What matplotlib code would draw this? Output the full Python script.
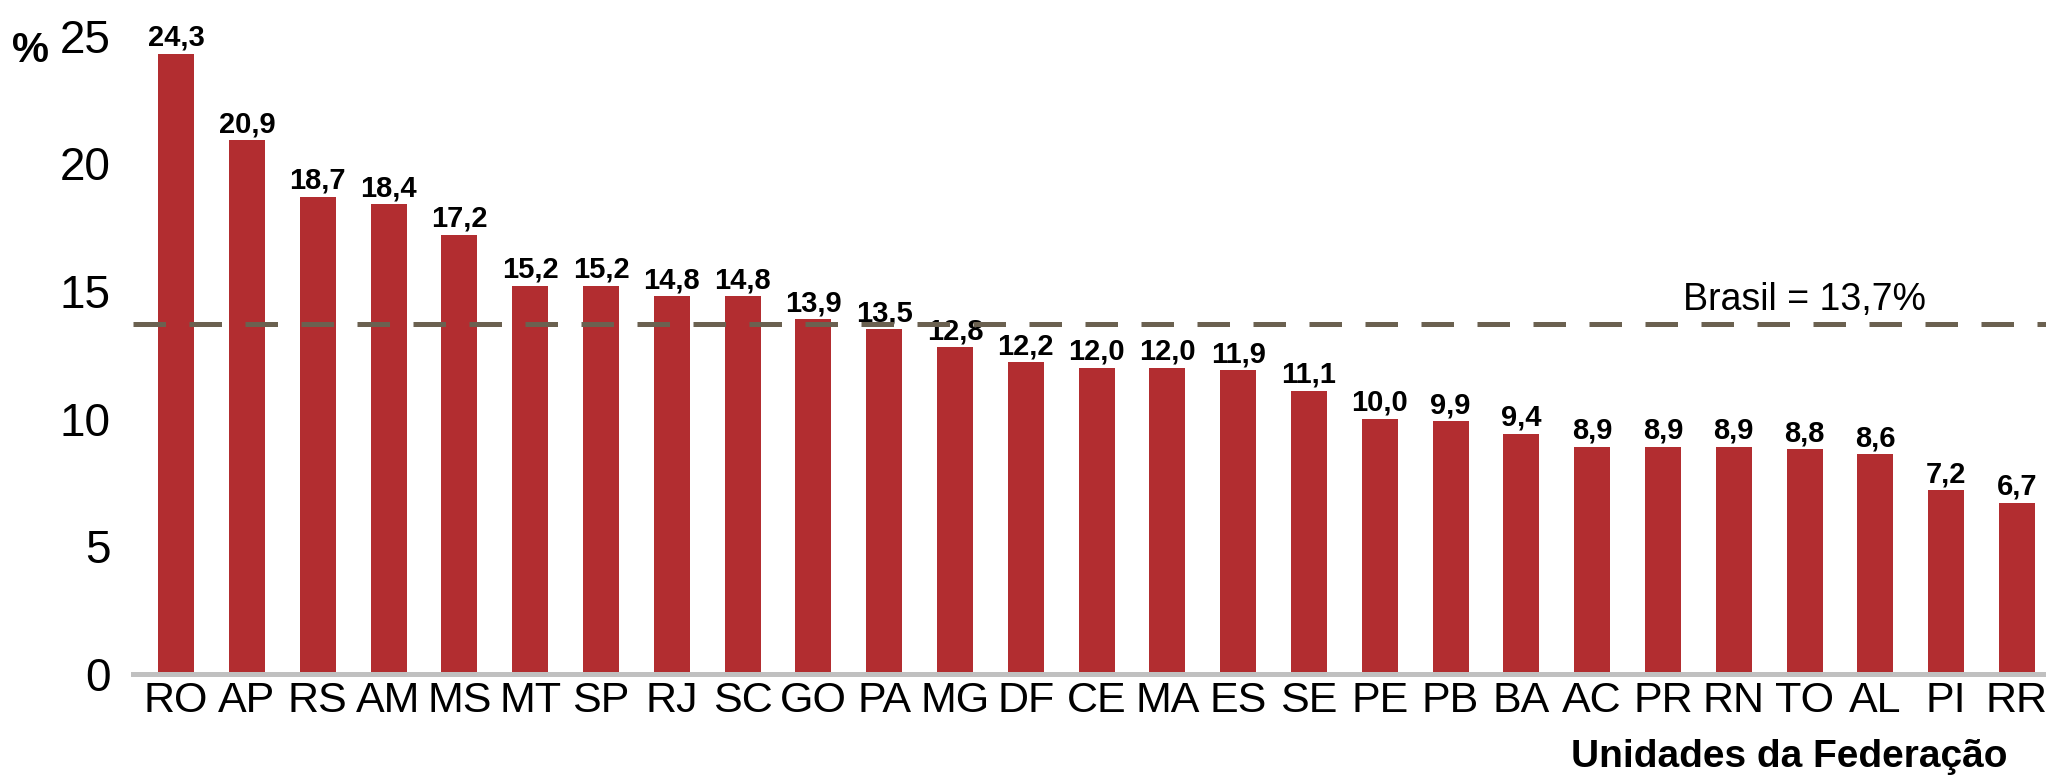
import matplotlib.pyplot as plt
from matplotlib import font_manager

ufs = ['RO', 'AP', 'RS', 'AM', 'MS', 'MT', 'SP', 'RJ', 'SC', 'GO', 'PA', 'MG', 'DF', 'CE',
       'MA', 'ES', 'SE', 'PE', 'PB', 'BA', 'AC', 'PR', 'RN', 'TO', 'AL', 'PI', 'RR']
valores = [24.3, 20.9, 18.7, 18.4, 17.2, 15.2, 15.2, 14.8, 14.8, 13.9, 13.5, 12.8, 12.2, 12.0,
           12.0, 11.9, 11.1, 10.0, 9.9, 9.4, 8.9, 8.9, 8.9, 8.8, 8.6, 7.2, 6.7]
brasil = 13.7

names = {f.name for f in font_manager.fontManager.ttflist}
fam = 'Liberation Sans Narrow' if 'Liberation Sans Narrow' in names else 'Liberation Sans'
plt.rcParams['font.family'] = [fam, 'DejaVu Sans']

fig = plt.figure(figsize=(20.46, 7.79), dpi=100)
ax = fig.add_axes([0.065, 0.135, 0.935, 0.819])

x = list(range(len(ufs)))
ax.bar(x, valores, width=0.51, color='#B22D30', zorder=2)
for xi, v in zip(x, valores):
    ax.annotate(f'{v:.1f}'.replace('.', ','), (xi, v), xytext=(0, 1.5), textcoords='offset points',
                ha='center', va='bottom', fontsize=21, fontweight='bold', clip_on=False)

ax.axhline(brasil, color='#6B6150', lw=3.6, dashes=(6.5, 4.7), zorder=3)
ax.text(23.0, brasil + 0.25, 'Brasil = 13,7%', ha='center', va='bottom', fontsize=27)

ax.set_xlim(-0.61, 26.41)
ax.set_ylim(0, 25)
ax.set_yticks([0, 5, 10, 15, 20, 25])
ax.set_xticks(x)
ax.set_xticklabels(ufs)
ax.tick_params(axis='y', length=0, labelsize=33, pad=16)
ax.tick_params(axis='x', length=0, labelsize=31, pad=5)

for s in ['top', 'right', 'left']:
    ax.spines[s].set_visible(False)
ax.spines['bottom'].set_color('#C0C0C0')
ax.spines['bottom'].set_linewidth(3.6)

fig.text(0.006, 0.935, '%', fontsize=30, fontweight='bold', va='center', ha='left')
fig.text(0.981, 0.028, 'Unidades da Federação', fontsize=28, fontweight='bold', ha='right', va='center')

fig.savefig('out.png', dpi=100)
